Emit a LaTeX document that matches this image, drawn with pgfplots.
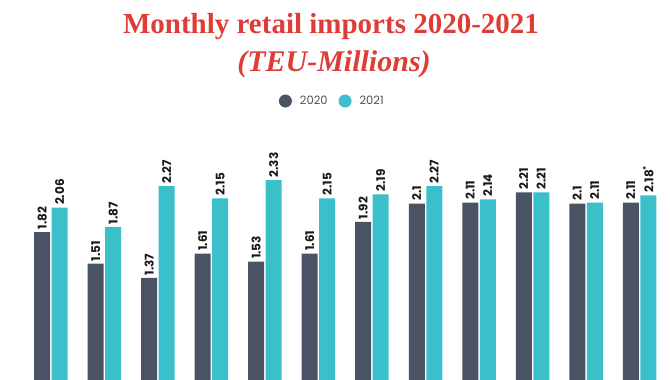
\documentclass[border=0pt]{standalone}
\usepackage{fontspec}
\setmainfont{Liberation Serif}
\newfontfamily\labfont{Poppins}
\usepackage{pgfplots}
\pgfplotsset{compat=1.18}
\definecolor{c20}{HTML}{4A5363}
\definecolor{c21}{HTML}{3BBFCB}
\definecolor{tred}{HTML}{DE3C37}
\definecolor{legtxt}{HTML}{505050}

\pgfplotstableread{
x y l
0 1.82 1.82
1 1.51 1.51
2 1.37 1.37
3 1.61 1.61
4 1.53 1.53
5 1.61 1.61
6 1.92 1.92
7 2.10 2.1
8 2.11 2.11
9 2.21 2.21
10 2.10 2.1
11 2.11 2.11
}\dataA
\pgfplotstableread{
x y l
0 2.06 2.06
1 1.87 1.87
2 2.27 2.27
3 2.15 2.15
4 2.33 2.33
5 2.15 2.15
6 2.19 2.19
7 2.27 2.27
8 2.14 2.14
9 2.21 2.21
10 2.11 2.11
11 2.18 2.18\textsuperscript{*}
}\dataB

\begin{document}
\begin{tikzpicture}
\useasboundingbox (0pt,0pt) rectangle (670pt,380pt);
\begin{axis}[
  at={(0pt,0pt)}, anchor=south west,
  scale only axis, width=670pt, height=260pt,
  xmin=-0.953, xmax=11.57, ymin=0.37, ymax=2.919,
  hide axis,
  ybar=1.5pt, bar width=16pt,
  nodes near coords, point meta=explicit symbolic,
  every node near coord/.append style={rotate=90, anchor=west,
    font=\labfont\bfseries\fontsize{12}{13}\selectfont, text=black!90, inner sep=2.5pt},
  legend columns=2,
  legend style={at={(0.496,1.073)}, anchor=center, draw=none, fill=none,
    font=\labfont\fontsize{11.5}{12}\selectfont, text=legtxt,
    /tikz/every even column/.append style={column sep=9pt}},
]
\addplot[fill=c20, draw=none,
  legend image code/.code={\path (0pt,0pt) -- (19pt,0pt); \fill[c20] (6.5pt,0pt) circle (6.5pt);}]
  table[x=x, y=y, meta=l] {\dataA};
\addlegendentry{2020}
\addplot[fill=c21, draw=none,
  legend image code/.code={\path (0pt,0pt) -- (19pt,0pt); \fill[c21] (6.5pt,0pt) circle (6.5pt);}]
  table[x=x, y=y, meta=l] {\dataB};
\addlegendentry{2021}
\end{axis}
\node[font=\bfseries\fontsize{29}{32}\selectfont, text=tred, anchor=base] at (331pt,346pt) {Monthly retail imports 2020-2021};
\node[font=\bfseries\itshape\fontsize{30}{33}\selectfont, text=tred, anchor=base] at (334pt,308pt) {(TEU-Millions)};
\end{tikzpicture}
\end{document}
